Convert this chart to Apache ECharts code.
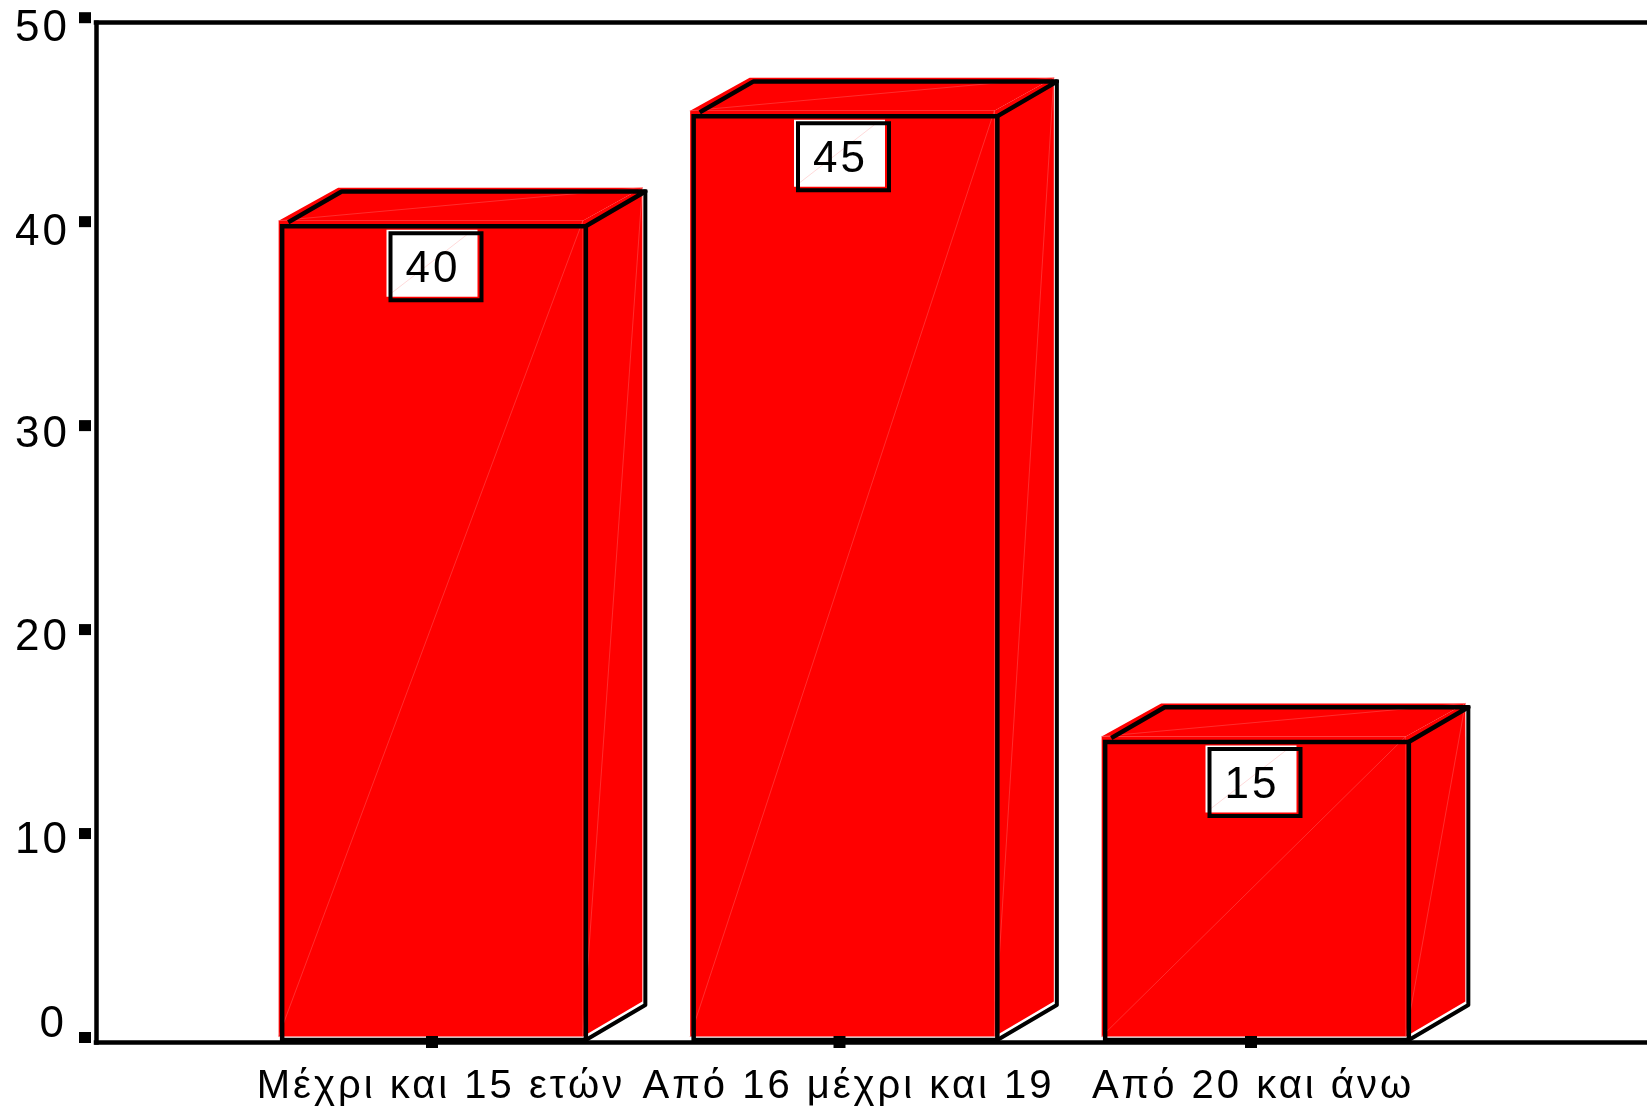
<!DOCTYPE html>
<html>
<head>
<meta charset="utf-8">
<style>html,body{margin:0;padding:0;background:#fff}#c{width:1647px;height:1108px}</style>
<script src="https://cdn.jsdelivr.net/npm/echarts@6/dist/echarts.min.js"></script>
</head>
<body>
<div id="c"></div>
<script>
var categories = ['Μέχρι και 15 ετών', 'Από 16 μέχρι και 19', 'Από 20 και άνω'];
var values = [40.0, 45.4, 14.65];
var valueLabels = ['40', '45', '15'];
var yTicks = [0, 10, 20, 30, 40, 50];

var FONT = '"Liberation Sans", Arial, sans-serif';
var RED = '#ff0000', BLACK = '#000000', SEAM = '#ff5a5a';
var anchorShift = [-2, -6, -6];
var labelShift = {50: 6, 40: 6, 30: 4, 20: 3, 10: 2, 0: -18};
var catLabelShift = [7, 3, -4];

// The reference text is loosely tracked: apply the same tracking to every canvas context.
var origGetContext = HTMLCanvasElement.prototype.getContext;
HTMLCanvasElement.prototype.getContext = function (kind) {
  var ctx = origGetContext.apply(this, arguments);
  if (kind === '2d' && ctx) { ctx.letterSpacing = '3px'; }
  return ctx;
};

function poly(points, fill) {
  return {type: 'polygon', shape: {points: points}, style: {fill: fill, stroke: null}};
}
function line(points, color, width) {
  return {type: 'polyline', shape: {points: points}, style: {fill: null, stroke: color, lineWidth: width, lineJoin: 'round', lineCap: 'square'}};
}

function renderBar(params, api) {
  var i = api.value(0), v = api.value(1);
  var top = api.coord([i, v]), base = api.coord([i, 0]);
  var w = api.size([1, 0])[0] * 0.738;
  var L = top[0] - w / 2, R = top[0] + w / 2, T = top[1], B = base[1];
  var dx = 59.5, dy = 34.7;
  var rL = L - 3.5, rR = R - 3, rT = T - 5.5, rB = B - 3.5;
  var rdx = dx, rdy = 33;
  var cx = top[0] + anchorShift[params.dataIndex];
  var boxW = 91, boxH = 67, boxT = T + 3.5, boxL = cx - boxW / 2;
  return {
    type: 'group',
    children: [
      poly([[rL, rT], [rL + rdx, rT - rdy], [rR + rdx, rT - rdy], [rR, rT]], RED),
      poly([[rR, rT], [rR + rdx, rT - rdy], [rR + rdx, rB - 35], [rR, rB]], RED),
      {type: 'rect', shape: {x: rL, y: rT, width: rR - rL, height: rB - rT}, style: {fill: RED}},
      line([[rL, rB], [rR, rT]], SEAM, 0.5),
      line([[rR, rB], [rR + rdx, rT - rdy]], SEAM, 0.5),
      line([[rL, rT], [rR + rdx, rT - rdy]], SEAM, 0.5),
      line([[L + 8, T - 5], [L + dx, T - dy], [R + dx, T - dy], [R, T]], BLACK, 4.5),
      line([[R + dx, T - dy], [R + dx, B - 35], [R, B]], BLACK, 4),
      {type: 'rect', shape: {x: L, y: T, width: w, height: B - T}, style: {fill: null, stroke: BLACK, lineWidth: 4.5}},
      {type: 'rect', shape: {x: boxL, y: boxT, width: boxW, height: boxH}, style: {fill: '#fff'}},
      line([[boxL + 3, boxT + boxH - 2], [boxL + boxW - 8, boxT + 3]], '#ffb4b4', 0.5),
      {type: 'rect', shape: {x: boxL + 4, y: boxT + 3.5, width: boxW, height: boxH}, style: {fill: null, stroke: BLACK, lineWidth: 4}},
      {type: 'text', style: {text: valueLabels[params.dataIndex], x: cx + 1, y: boxT + 40, align: 'center', verticalAlign: 'middle', fontSize: 44, fontFamily: FONT, fill: BLACK}}
    ]
  };
}
function renderYTick(params, api) {
  var p = api.coord([0, api.value(1)]);
  return {type: 'rect', shape: {x: p[0] - 17, y: p[1] - 10.5, width: 12, height: 11}, style: {fill: BLACK}};
}
function renderXTick(params, api) {
  var p = api.coord([api.value(0), 0]);
  return {type: 'rect', shape: {x: p[0] + anchorShift[params.dataIndex] - 6, y: p[1] - 4, width: 12, height: 12}, style: {fill: BLACK}};
}

var frameLine = {show: true, onZero: false, lineStyle: {color: BLACK, width: 4.5, cap: 'square'}};
var noParts = {axisTick: {show: false}, axisLabel: {show: false}, splitLine: {show: false}};

var richY = {};
yTicks.forEach(function (t) {
  var d = labelShift[t];
  richY['v' + t] = {
    fontSize: 44, fontFamily: FONT, color: BLACK,
    padding: [d > 0 ? 2 * d : 0, t === 0 ? 3 : 0, d < 0 ? -2 * d : 0, 0]
  };
});
var richX = {};
categories.forEach(function (c, i) {
  var d = catLabelShift[i];
  richX['c' + i] = {
    fontSize: 40, fontFamily: FONT, color: BLACK,
    padding: [0, d < 0 ? -2 * d : 0, 0, d > 0 ? 2 * d : 0]
  };
});

var option = {
  animation: false,
  backgroundColor: '#fff',
  grid: [
    {left: 96, right: 0, top: 22.7, bottom: 65.5},
    {left: 228.25, width: 1234.5, top: 22.7, bottom: 65.5}
  ],
  xAxis: [
    Object.assign({type: 'value', gridIndex: 0, min: 0, max: 1, position: 'bottom', axisLine: frameLine}, noParts),
    Object.assign({type: 'value', gridIndex: 0, min: 0, max: 1, position: 'top', axisLine: frameLine}, noParts),
    {
      type: 'category', gridIndex: 1, data: categories, position: 'bottom',
      axisLine: {show: false}, axisTick: {show: false}, splitLine: {show: false},
      axisLabel: {
        show: true, interval: 0, margin: 25, color: BLACK, fontSize: 40, fontFamily: FONT,
        formatter: function (v, i) { return '{c' + i + '|' + v + '}'; },
        rich: richX
      }
    }
  ],
  yAxis: [
    {
      type: 'value', gridIndex: 0, min: 0, max: 50, interval: 10, position: 'left',
      axisLine: frameLine, axisTick: {show: false}, splitLine: {show: false},
      axisLabel: {
        show: true, margin: 26, color: BLACK, fontSize: 44, fontFamily: FONT,
        formatter: function (v) { return '{v' + v + '|' + v + '}'; },
        rich: richY
      }
    },
    Object.assign({type: 'value', gridIndex: 1, min: 0, max: 50, interval: 10, axisLine: {show: false}}, noParts)
  ],
  series: [
    {
      type: 'custom', xAxisIndex: 2, yAxisIndex: 1, z: 3,
      data: values.map(function (v, i) { return [i, v]; }),
      encode: {x: 0, y: 1}, renderItem: renderBar
    },
    {
      type: 'custom', xAxisIndex: 0, yAxisIndex: 0, z: 4,
      data: yTicks.map(function (t) { return [0, t]; }),
      encode: {x: 0, y: 1}, renderItem: renderYTick, silent: true
    },
    {
      type: 'custom', xAxisIndex: 2, yAxisIndex: 1, z: 4,
      data: categories.map(function (c, i) { return [i, 0]; }),
      encode: {x: 0, y: 1}, renderItem: renderXTick, silent: true
    }
  ]
};
echarts.init(document.getElementById('c'), null, {renderer: 'canvas'}).setOption(option);
</script>
</body>
</html>
